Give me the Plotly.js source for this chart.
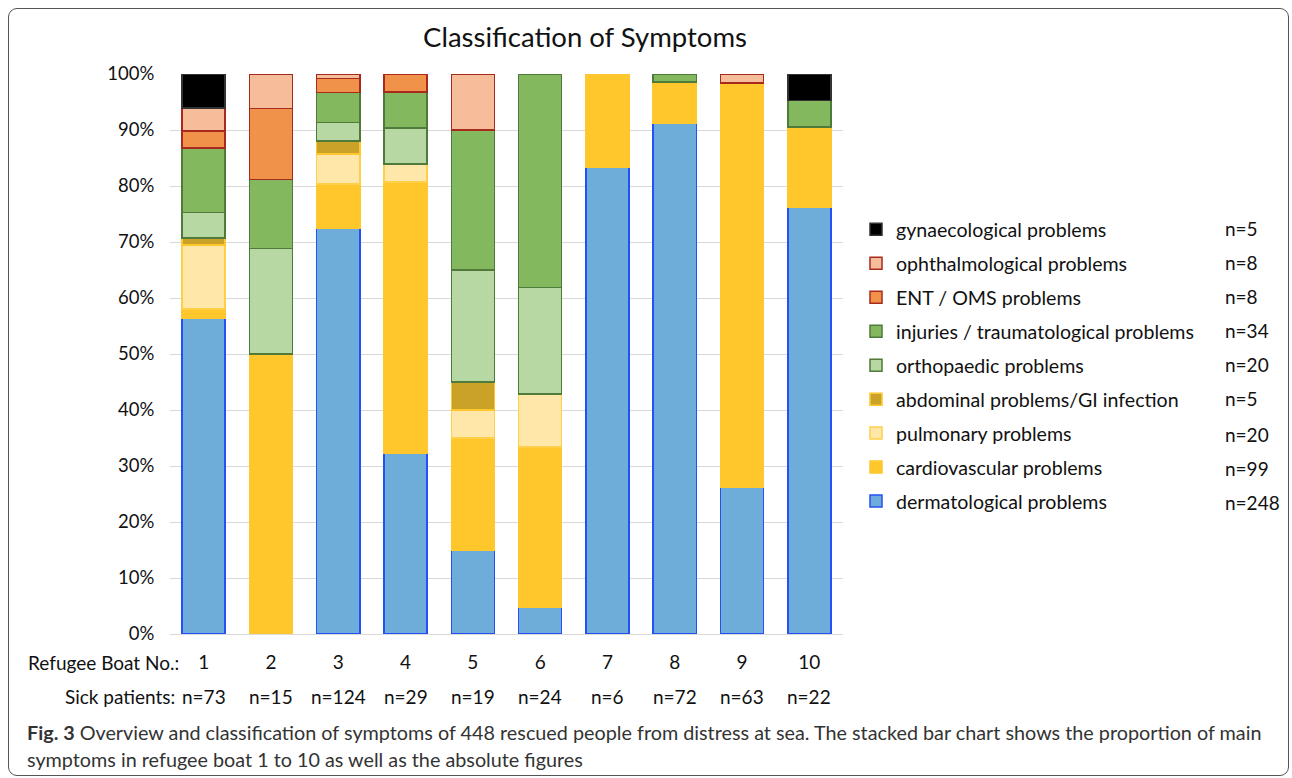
<!DOCTYPE html>
<html>
<head>
<meta charset="utf-8">
<script src="https://cdn.plot.ly/plotly-3.0.1.min.js"></script>
<style>
  html, body { margin: 0; padding: 0; background: #fff; }
  #wrap { position: relative; width: 1292px; height: 778px; overflow: hidden; }
  #frame { position: absolute; left: 8px; top: 8px; width: 1281px; height: 768px;
           border: 1.3px solid #555; border-radius: 9px; box-sizing: border-box; pointer-events: none; }
  #chart { position: absolute; left: 0; top: 0; width: 1292px; height: 778px; }
</style>
</head>
<body>
<div id="wrap">
  <div id="chart"></div>
  <div id="frame"></div>
</div>
<script>
// ---- data (percent of symptoms per boat) ----
const boats = ['1','2','3','4','5','6','7','8','9','10'];
const sickPatients = ['n=73','n=15','n=124','n=29','n=19','n=24','n=6','n=72','n=63','n=22'];

const dermatological   = [56.4, null, 72.4, 32.3, 15, 4.8, 83.3, 91.2, 26.2, 76.2];
const cardiovascular   = [1.6, 50, 8.0, 48.4, 20, 28.6, 16.7, 7.35, 72.2, 14.3];
const pulmonary        = [11.5, null, 5.3, 3.2, 5, 9.5, null, null, null, null];
const abdominal        = [1.2, null, 2.3, null, 5, null, null, null, null, null];
const orthopaedic      = [4.6, 18.8, 3.3, 6.45, 20, 19.0, null, null, null, null];
const injuries         = [11.5, 12.4, 5.4, 6.45, 25, 38.1, null, 1.45, null, 4.75];
const ent              = [3.0, 12.6, 2.5, 3.2, null, null, null, null, null, null];
const ophthalmological = [4.1, 6.2, 0.8, null, 10, null, null, null, 1.6, null];
const gynaecological   = [6.1, null, null, null, null, null, null, null, null, 4.75];

const seriesNames = ['dermatological problems','cardiovascular problems','pulmonary problems',
  'abdominal problems/GI infection','orthopaedic problems','injuries / traumatological problems',
  'ENT / OMS problems','ophthalmological problems','gynaecological problems'];
const seriesTotals = ['n=248','n=99','n=20','n=5','n=20','n=34','n=8','n=8','n=5'];
const seriesValues = [dermatological, cardiovascular, pulmonary, abdominal, orthopaedic,
  injuries, ent, ophthalmological, gynaecological];

const fills   = ['#6EADD9','#FFC72C','#FFE7A9','#C9A227','#B7D7A3','#84B85F','#F0924A','#F5BD9A','#000000'];
const borders = ['#2550F5','#FFC72C','#FFCF4A','#FFC72C','#4F7A3A','#4F7A3A','#A82A1E','#A82A1E','#333333'];

const FONT = 'Lato, "Open Sans", sans-serif';

const traces = seriesValues.map((vals, i) => ({
  type: 'bar',
  x: boats,
  y: vals,
  name: seriesNames[i],
  legendgroup: 'g' + i,
  legendrank: 100 - i,
  marker: { color: fills[i], line: { color: borders[i], width: 1.5 } },
  hoverinfo: 'skip'
}));

const plotTop = 74, plotBottom = 634, plotLeft = 170, plotRight = 843;
const pw = plotRight - plotLeft, ph = plotBottom - plotTop;
const legendRowsPx = [228, 262, 296, 330, 365, 399, 435, 469, 503]; // top (gyn) to bottom (derm)

const annotations = [];
for (let k = 0; k < 9; k++) {
  const idx = 8 - k;
  annotations.push({
    xref: 'paper', yref: 'paper', x: (1223 - plotLeft) / pw, y: (plotBottom - legendRowsPx[k]) / ph,
    xanchor: 'left', yanchor: 'middle', showarrow: false, text: seriesTotals[idx],
    font: { family: FONT, size: 19, color: '#111' }
  });
}
annotations.push({ xref: 'paper', yref: 'paper', x: (181 - plotLeft) / pw, y: (plotBottom - 662) / ph,
  xanchor: 'right', yanchor: 'middle', showarrow: false, text: 'Refugee Boat No.:',
  font: { family: FONT, size: 19, color: '#111' } });
annotations.push({ xref: 'paper', yref: 'paper', x: (177 - plotLeft) / pw, y: (plotBottom - 696) / ph,
  xanchor: 'right', yanchor: 'middle', showarrow: false, text: 'Sick patients:',
  font: { family: FONT, size: 19, color: '#111' } });
boats.forEach((b, i) => {
  annotations.push({ xref: 'x', yref: 'paper', x: i, y: (plotBottom - 696) / ph,
    xanchor: 'center', yanchor: 'middle', showarrow: false, text: sickPatients[i],
    font: { family: FONT, size: 19, color: '#111' } });
});
const CAPFONT = 'Lato, "Open Sans", sans-serif';
annotations.push({ xref: 'paper', yref: 'paper', x: (25 - plotLeft) / pw, y: (plotBottom - 732) / ph,
  xanchor: 'left', yanchor: 'middle', showarrow: false, align: 'left',
  text: '<b>Fig. 3</b> Overview and classification of symptoms of 448 rescued people from distress at sea. The stacked bar chart shows the proportion of main',
  font: { family: CAPFONT, size: 19.8, color: '#333' } });
annotations.push({ xref: 'paper', yref: 'paper', x: (25 - plotLeft) / pw, y: (plotBottom - 759) / ph,
  xanchor: 'left', yanchor: 'middle', showarrow: false, align: 'left',
  text: 'symptoms in refugee boat 1 to 10 as well as the absolute figures',
  font: { family: CAPFONT, size: 19.8, color: '#333' } });

const layout = {
  width: 1292, height: 778,
  margin: { l: plotLeft, r: 1292 - plotRight, t: plotTop, b: 778 - plotBottom, pad: 0 },
  paper_bgcolor: '#fff', plot_bgcolor: '#fff',
  barmode: 'stack', bargap: 0.36,
  title: { text: 'Classification of Symptoms', x: 585 / 1292, xref: 'container', xanchor: 'center',
           y: 1 - 37 / 778, yref: 'container', yanchor: 'middle',
           font: { family: FONT, size: 27.5, color: '#111' } },
  xaxis: { type: 'category', showgrid: false, showline: true, linecolor: '#d9d9d9', linewidth: 1,
           range: [-0.5, 9.5],
           ticks: 'outside', ticklen: 11, tickcolor: 'rgba(0,0,0,0)',
           tickfont: { family: FONT, size: 19, color: '#111' }, fixedrange: true },
  yaxis: { range: [0, 100], dtick: 10, ticksuffix: '%', showgrid: true, gridcolor: '#d9d9d9',
           gridwidth: 1, zeroline: false, showline: false,
           ticks: 'outside', ticklen: 11, tickcolor: 'rgba(0,0,0,0)',
           tickfont: { family: FONT, size: 18.5, color: '#111' }, fixedrange: true },
  legend: { x: (856 - plotLeft) / pw, xanchor: 'left', y: (plotBottom - 210) / ph, yanchor: 'top',
            traceorder: 'grouped', tracegroupgap: 5.5,
            font: { family: FONT, size: 19.6, color: '#111' }, bgcolor: 'rgba(0,0,0,0)' },
  annotations: annotations,
  showlegend: true
};

Plotly.newPlot('chart', traces, layout, { displayModeBar: false, staticPlot: true });
</script>
</body>
</html>
